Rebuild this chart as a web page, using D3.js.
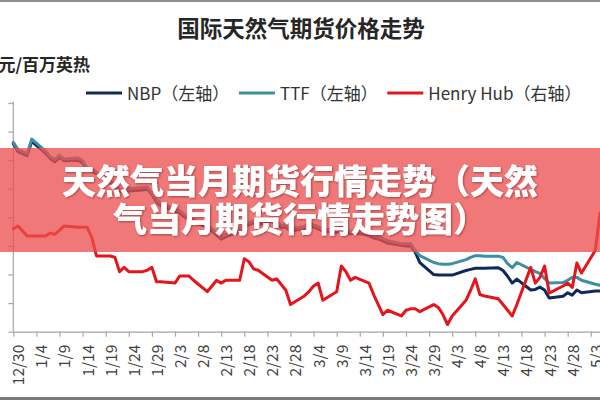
<!DOCTYPE html>
<html><head><meta charset="utf-8">
<script src="https://cdn.jsdelivr.net/npm/d3@7"></script>
<style>
html,body{margin:0;padding:0;background:#fff;}
svg{display:block;}
</style></head>
<body><svg id="c" width="600" height="400"></svg>
<script>
// ---------- data ----------
const dates = ["12/30","12/31","1/2","1/3","1/6","1/7","1/8","1/9","1/10",
"1/13","1/14","1/15","1/16","1/17","1/20","1/21","1/22","1/23","1/24",
"1/27","1/28","1/29","1/30","1/31","2/3","2/4","2/5","2/6","2/7",
"2/10","2/11","2/12","2/13","2/14","2/17","2/18","2/19","2/20","2/21",
"2/24","2/25","2/26","2/27","2/28","3/2","3/3","3/4","3/5","3/6",
"3/9","3/10","3/11","3/12","3/13","3/16","3/17","3/18","3/19","3/20",
"3/23","3/24","3/25","3/26","3/27","3/30","3/31","4/1","4/2","4/3",
"4/6","4/7","4/8","4/9","4/10","4/13","4/14","4/15","4/16","4/17",
"4/20","4/21","4/22","4/23","4/24","4/27","4/28","4/29","4/30","5/1","5/4","5/5"];

const nbp = [4.29,4.15,4.08,4.33,4.12,4.03,3.97,4.05,3.99,
4.00,3.95,3.83,3.81,3.76,3.60,3.54,3.46,3.43,3.46,
3.48,3.49,3.40,3.27,3.20,3.11,3.08,3.01,2.96,2.92,
2.83,2.76,2.69,2.62,2.66,2.76,2.83,2.87,2.90,2.87,
2.94,2.89,2.82,2.83,2.76,2.80,2.87,2.83,2.80,2.76,
2.73,2.80,2.75,2.71,2.73,2.68,2.64,2.62,2.59,2.55,
2.51,2.50,2.50,2.39,2.21,2.00,1.99,1.99,1.99,1.99,
2.07,2.09,2.11,2.11,2.11,2.12,2.07,1.97,1.85,1.92,
1.73,1.74,1.78,1.73,1.59,1.62,1.68,1.64,1.73,1.68,1.71,1.71];

const ttf = [4.31,4.19,4.11,4.37,4.16,4.06,4.01,4.09,4.02,
4.04,3.99,3.86,3.85,3.79,3.64,3.57,3.50,3.46,3.50,
3.52,3.53,3.43,3.31,3.24,3.15,3.12,3.05,3.00,2.96,
2.87,2.80,2.73,2.66,2.70,2.80,2.87,2.91,2.94,2.91,
2.98,2.93,2.86,2.87,2.80,2.84,2.91,2.87,2.84,2.80,
2.77,2.84,2.79,2.75,2.77,2.72,2.68,2.66,2.63,2.59,
2.54,2.54,2.54,2.42,2.33,2.21,2.19,2.18,2.18,2.19,
2.26,2.30,2.33,2.33,2.32,2.32,2.30,2.19,2.12,2.21,
2.09,2.05,2.02,1.93,1.85,1.86,1.90,1.95,1.95,1.90,1.83,1.81];

const henryHub = [2.12,2.14,2.07,2.07,2.07,2.09,2.08,2.11,2.14,
2.13,2.13,2.13,2.06,1.93,1.93,1.92,1.82,1.85,1.82,
1.82,1.83,1.85,1.75,1.75,1.74,1.79,1.79,1.79,1.76,
1.68,1.72,1.76,1.74,1.76,1.76,1.91,1.89,1.84,1.83,
1.76,1.77,1.73,1.69,1.59,1.65,1.68,1.72,1.74,1.62,
1.68,1.86,1.82,1.76,1.78,1.74,1.66,1.59,1.52,1.55,
1.51,1.55,1.56,1.56,1.54,1.59,1.57,1.52,1.45,1.51,
1.62,1.69,1.77,1.66,1.65,1.63,1.59,1.55,1.51,1.59,
1.85,1.74,1.78,1.86,1.67,1.72,1.74,1.71,1.88,1.81,1.97,2.23];

const xTickLabels = ["12/30","1/4","1/9","1/14","1/19","1/24","1/29","2/3","2/8","2/13",
"2/18","2/23","2/28","3/4","3/9","3/14","3/19","3/24","3/29","4/3","4/8","4/13",
"4/18","4/23","4/28","5/3"];
const leftTicks = [1,1.5,2,2.5,3,3.5,4,4.5,5];

const seriesNames = ["NBP（左轴）","TTF（左轴）","Henry Hub（右轴）"];
const title = "国际天然气期货价格走势";
const unitLabel = "美元/百万英热";
const bannerLines = ["天然气当月期货行情走势（天然","气当月期货行情走势图）"];

// ---------- styles ----------
const colors = {nbp:"#0e2a5c", ttf:"#3f8fa3", hh:"#e5151b"};
const FONT = "'Noto Sans CJK SC','Noto Sans',sans-serif";

// ---------- helpers ----------
const parse = s => { const [m,d] = s.split("/").map(Number); return new Date(m===12?2019:2020, m-1, d); };

const svg = d3.select("#c");
svg.append("rect").attr("width",600).attr("height",400).attr("fill","#fff");

const x = d3.scaleTime().domain([new Date(2019,11,30), new Date(2020,4,5)]).range([13.3, 600]);
const yL = d3.scaleLinear().domain([1,5]).range([331.7, 103]);
// right axis (Henry Hub) – its labels lie outside the cropped view
const yR = d3.scaleLinear().domain([1.4,3.0]).range([331.7, 103]);

// frame lines (screenshot borders)
svg.append("rect").attr("x",0).attr("y",0).attr("width",600).attr("height",2).attr("fill","#8e8e8e");
svg.append("rect").attr("x",0).attr("y",397).attr("width",600).attr("height",3).attr("fill","#7a7a7a");

// title
svg.append("text").attr("x",301).attr("y",37).attr("text-anchor","middle")
  .attr("font-family",FONT).attr("font-size",22.5).attr("font-weight","bold").attr("fill","#262626")
  .text(title);

// unit label
svg.append("text").attr("x",90).attr("y",71).attr("text-anchor","end")
  .attr("font-family",FONT).attr("font-size",17).attr("font-weight","bold").attr("fill","#262626")
  .text(unitLabel);

// legend
const legendX = [86, 239, 387.3];
const legendKeys = ["nbp","ttf","hh"];
const lg = svg.append("g");
seriesNames.forEach((n,i)=>{
  lg.append("line").attr("x1",legendX[i]).attr("x2",legendX[i]+36).attr("y1",93).attr("y2",93)
    .attr("stroke",colors[legendKeys[i]]).attr("stroke-width",3);
  lg.append("text").attr("x",legendX[i]+41).attr("y",99.5).attr("font-family",FONT)
    .attr("font-size",17).attr("fill","#333").text(n);
});

// axes
const axisColor = "#a6a6a6";
const gx = svg.append("g").attr("transform","translate(0,331.7)")
  .call(d3.axisBottom(x).tickValues(xTickLabels.map(parse)).tickSize(5).tickSizeOuter(0)
        .tickFormat(d3.timeFormat("%-m/%-d")));
gx.select(".domain").attr("stroke",axisColor).attr("stroke-width",1.2);
gx.selectAll(".tick line").attr("stroke",axisColor).attr("stroke-width",1.2);
gx.selectAll(".tick text").attr("transform","rotate(-90)").attr("text-anchor","end")
  .attr("x",-13).attr("y",5).attr("dy","0.35em")
  .attr("font-family",FONT).attr("font-size",15.5).attr("fill","#404040");

const gy = svg.append("g").attr("transform","translate(13.3,0)")
  .call(d3.axisLeft(yL).tickValues(leftTicks).tickSize(5).tickSizeOuter(0).tickFormat(""));
gy.select(".domain").attr("stroke",axisColor).attr("stroke-width",1.2).attr("d","M0,101.7V331.7");
gy.selectAll(".tick line").attr("stroke",axisColor).attr("stroke-width",1.2);
gy.selectAll(".tick text").remove();

// lines
const pts = dates.map(parse);
const mk = (vals, y) => d3.line().x((d,i)=>x(pts[i])).y(d=>y(d))(vals);
const lines = svg.append("g").attr("fill","none").attr("stroke-width",3)
  .attr("stroke-linejoin","round").attr("stroke-linecap","round");
lines.append("path").attr("d",mk(nbp,yL)).attr("stroke",colors.nbp);
lines.append("path").attr("d",mk(ttf,yL)).attr("stroke",colors.ttf);
lines.append("path").attr("d",mk(henryHub,yR)).attr("stroke",colors.hh);

// banner overlay
const defs = svg.append("defs");
const f = defs.append("filter").attr("id","sh").attr("x","-10%").attr("y","-20%").attr("width","120%").attr("height","140%");
f.append("feDropShadow").attr("dx",1).attr("dy",1).attr("stdDeviation",1.2)
  .attr("flood-color","#5a1010").attr("flood-opacity",0.45);
svg.append("rect").attr("x",0).attr("y",148).attr("width",600).attr("height",104)
  .attr("fill","rgb(235,78,78)").attr("fill-opacity",0.76);
bannerLines.forEach((t,i)=>{
  svg.append("text").attr("x",300).attr("y",193.5+i*38.5).attr("text-anchor","middle")
    .attr("font-family",FONT).attr("font-size",34).attr("font-weight",900).attr("fill","#fff")
    .attr("filter","url(#sh)").text(t);
});
</script></body></html>
